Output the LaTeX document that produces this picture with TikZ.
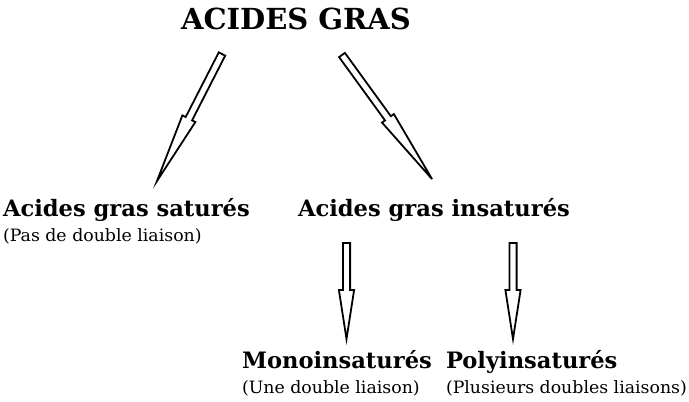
\documentclass[tikz,border=0pt]{standalone}
\usepackage{fontspec}
\setmainfont{DejaVu Serif}
\newfontfamily\subserif[FakeStretch=1.02]{DejaVu Serif}
\usetikzlibrary{calc}
\tikzset{
  lbl/.style={anchor=base west, inner sep=0pt, outer sep=0pt},
  titlefont/.style={font=\bfseries\fontsize{29}{32}\selectfont},
  headfont/.style={font=\bfseries\fontsize{22.6}{26}\selectfont},
  subfont/.style={font=\subserif\fontsize{17}{20}\selectfont},
  blockarrow/.style={draw=black, line width=1.8pt, fill=white, line join=miter}
}
% \barrow{start}{end}{half shaft}{half head}{head length}
\newcommand{\barrow}[5]{%
  \draw[blockarrow] let \p1=(#1), \p2=(#2),
      \n1={atan2(\y2-\y1,\x2-\x1)},
      \n2={veclen(\x2-\x1,\y2-\y1)},
      \n3={\n2-#5} in
    ($(\p1)+(\n1+90:#3)$) -- ($(\p1)+(\n1:\n3)+(\n1+90:#3)$) --
    ($(\p1)+(\n1:\n3)+(\n1+90:#4)$) -- (\p2) --
    ($(\p1)+(\n1:\n3)+(\n1-90:#4)$) -- ($(\p1)+(\n1:\n3)+(\n1-90:#3)$) --
    ($(\p1)+(\n1-90:#3)$) -- cycle;}
\begin{document}
\begin{tikzpicture}[x=1pt,y=-1pt]
\useasboundingbox (0,0) rectangle (689,402);
\node[lbl,titlefont] (title) at (181,29) {ACIDES GRAS};
\node[lbl,headfont] (sat) at (3,216) {Acides gras saturés};
\node[lbl,subfont] (satsub) at (3,241) {(Pas de double liaison)};
\node[lbl,headfont] (insat) at (298,216) {Acides gras insaturés};
\node[lbl,headfont] (mono) at (242,368) {Monoinsaturés};
\node[lbl,subfont] (monosub) at (242,393) {(Une double liaison)};
\node[lbl,headfont] (poly) at (446,368) {Polyinsaturés};
\node[lbl,subfont] (polysub) at (446,393) {(Plusieurs doubles liaisons)};
\coordinate (a1s) at (222,54);
\coordinate (a1e) at (157,181);
\coordinate (a2s) at (342,55);
\coordinate (a2e) at (432,179);
\coordinate (a3s) at (346.5,243);
\coordinate (a3e) at (346.5,339);
\coordinate (a4s) at (513,243);
\coordinate (a4e) at (513,339);
\barrow{a1s}{a1e}{3.6pt}{7.3pt}{70pt}
\barrow{a2s}{a2e}{3.6pt}{7.3pt}{75pt}
\barrow{a3s}{a3e}{3.6pt}{7.6pt}{49pt}
\barrow{a4s}{a4e}{3.6pt}{7.6pt}{49pt}
\end{tikzpicture}
\end{document}
